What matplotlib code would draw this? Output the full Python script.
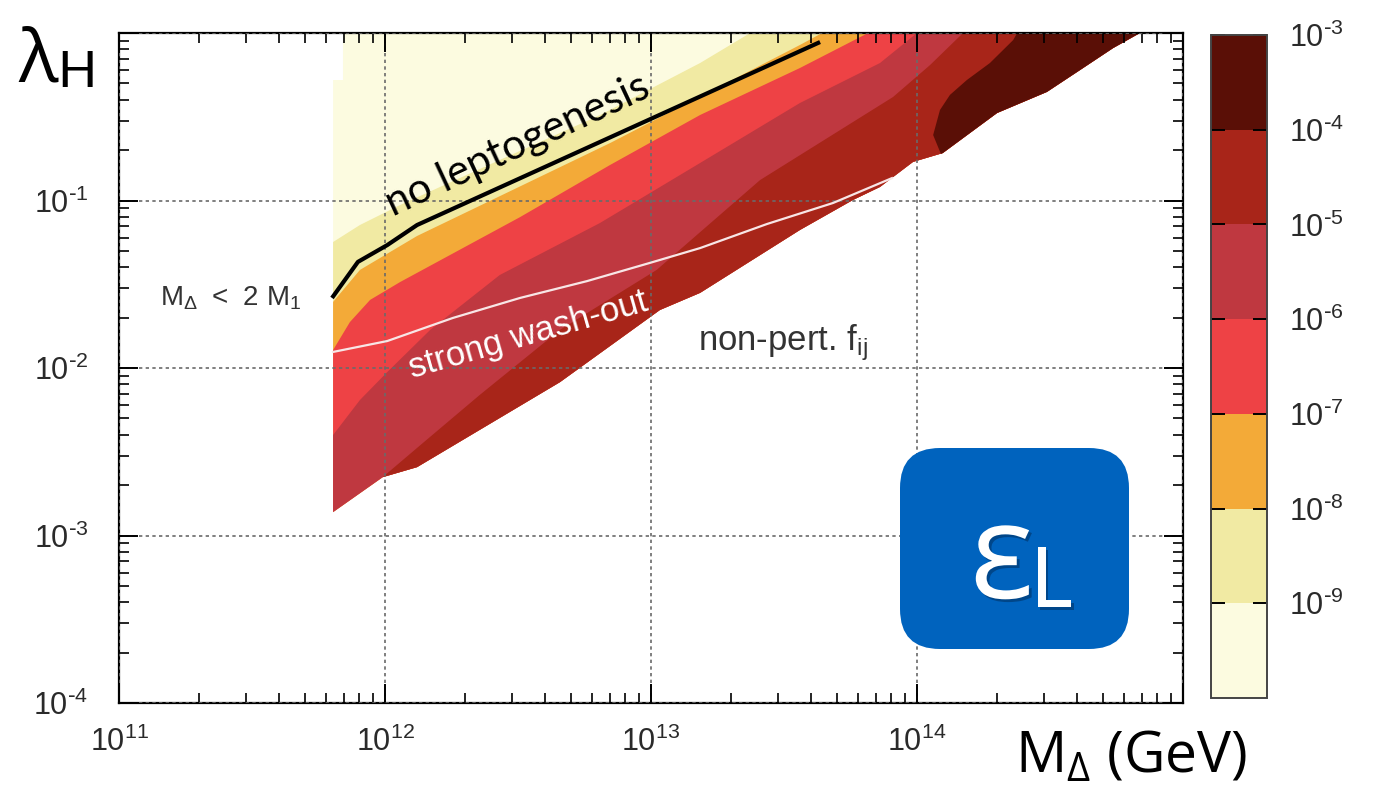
import numpy as np
import matplotlib
matplotlib.use("Agg")
import matplotlib.pyplot as plt
import matplotlib.ticker as mticker
import matplotlib.patheffects as pe
from matplotlib.colors import ListedColormap, BoundaryNorm
from matplotlib.cm import ScalarMappable
from matplotlib.patches import FancyBboxPatch

plt.rcParams["font.family"] = ["Liberation Sans", "DejaVu Sans"]
plt.rcParams["mathtext.default"] = "regular"

# eps_L contour levels and the colour of each band
levels = [1e-10, 1e-9, 1e-8, 1e-7, 1e-6, 1e-5, 1e-4, 1e-3]
band_colors = ["#FCFBE0", "#F1EAA3", "#F3AA38", "#EE4245",
               "#BF3840", "#A82519", "#5A0F06"]
cbar_ticks = [1e-9, 1e-8, 1e-7, 1e-6, 1e-5, 1e-4, 1e-3]

# allowed parameter region
left_M_low = 6.38e11          # M_Delta = 2 M_1 edge
left_M_high = 6.95e11
left_step_lam = 0.524
lower_M = [6.38e11, 9.8e11, 1.32e12, 4.55e12, 1.08e13, 1.53e13, 3.63e13, 5.74e13,
           7.26e13, 9.66e13, 1.25e14, 2.0e14, 3.08e14, 4.10e14, 5.46e14, 6.89e14]
lower_lam = [1.38e-3, 2.23e-3, 2.56e-3, 8.24e-3, 0.0222, 0.0281, 0.0667, 0.1007,
             0.1205, 0.170, 0.192, 0.333, 0.445, 0.601, 0.813, 1.0]

# contour lines eps_L = level (region below/right of each line has eps_L above the level)
c9_M = [6.38e11, 8.05e11, 1.14e12, 2.70e12, 6.43e12, 1.53e13, 2.36e13]
c9_lam = [0.0565, 0.0714, 0.094, 0.1745, 0.3236, 0.662, 1.0]
c8_M = [6.38e11, 8.05e11, 1.32e12, 7.02e12, 3.63e13, 4.40e13]
c8_lam = [0.0248, 0.0385, 0.0614, 0.2203, 0.848, 1.0]
c7_M = [6.38e11, 7.38e11, 8.79e11, 1.14e12, 3.22e12, 7.02e12, 1.53e13, 3.63e13, 6.55e13]
c7_lam = [0.0128, 0.0188, 0.0255, 0.0326, 0.0796, 0.163, 0.324, 0.618, 1.0]
c6_M = [6.38e11, 8.05e11, 1.02e12, 1.48e12, 2.70e12, 6.43e12, 1.53e13, 3.63e13, 7.26e13, 1.0e14]
c6_lam = [3.98e-3, 6.44e-3, 9.46e-3, 0.0169, 0.0359, 0.0734, 0.1675, 0.382, 0.662, 1.0]
c5_M = [9.8e11, 1.36e12, 2.27e12, 4.55e12, 1.05e13, 2.57e13, 8.13e13, 1.12e14, 1.49e14]
c5_lam = [2.23e-3, 3.47e-3, 6.90e-3, 0.0169, 0.0385, 0.1324, 0.415, 0.644, 1.0]
c4_M = [1.23e14, 1.15e14, 1.22e14, 1.33e14, 1.54e14, 1.88e14, 2.30e14, 2.38e14]
c4_lam = [0.1897, 0.246, 0.347, 0.427, 0.524, 0.662, 0.908, 1.0]

# "no leptogenesis" border and strong wash-out border
nolep_M = [6.32e11, 7.91e11, 1.02e12, 1.32e12, 4.32e13]
nolep_lam = [0.0262, 0.0430, 0.0542, 0.0714, 0.883]
wash_M = [6.38e11, 1.02e12, 1.80e12, 3.22e12, 5.74e12, 9.9e12, 1.53e13, 2.73e13, 4.83e13, 8.05e13]
wash_lam = [0.01247, 0.01449, 0.0199, 0.0262, 0.0330, 0.0424, 0.0520, 0.0724, 0.0966, 0.136]

W, H = 1379, 787
fig = plt.figure(figsize=(W / 100, H / 100), dpi=100)
ax = fig.add_axes([119 / W, 1 - 703 / H, (1183 - 119) / W, (703 - 33) / H])
ax.set_xscale("log")
ax.set_yscale("log")
ax.set_xlim(1e11, 1e15)
ax.set_ylim(1e-4, 1)


def region_above(cM, clam):
    """Polygon between a contour line, the top edge and the lower edge."""
    start = cM[0]
    xs = list(cM)
    ys = list(clam)
    for m, l in zip(lower_M[::-1], lower_lam[::-1]):
        if m > start:
            xs.append(m)
            ys.append(l)
    if start == left_M_low:
        xs.append(lower_M[0])
        ys.append(lower_lam[0])
    return xs, ys


# whole allowed region (lowest band)
dom_x = [left_M_high, left_M_high, left_M_low] + lower_M
dom_y = [1.0, left_step_lam, left_step_lam] + lower_lam
ax.fill(dom_x, dom_y, color=band_colors[0], lw=0, zorder=1)

contours = [(c9_M, c9_lam), (c8_M, c8_lam), (c7_M, c7_lam),
            (c6_M, c6_lam), (c5_M, c5_lam), (c4_M, c4_lam)]
for (cM, clam), col in zip(contours, band_colors[1:]):
    xs, ys = region_above(cM, clam)
    ax.fill(xs, ys, color=col, lw=0, zorder=1)

ax.plot(wash_M, wash_lam, color="#F8E6E6", lw=1.6, zorder=3)
ax.plot(nolep_M, nolep_lam, color="black", lw=3.0, zorder=3,
        solid_joinstyle="round", solid_capstyle="butt")

# axes styling
ax.set_axisbelow(False)
ax.grid(which="major", color="#6a6a6a", lw=1.2, ls=(0, (2.0, 2.0)))
for s in ax.spines.values():
    s.set_linewidth(1.6)
ax.xaxis.set_major_locator(mticker.LogLocator(base=10, numticks=20))
ax.yaxis.set_major_locator(mticker.LogLocator(base=10, numticks=20))
ax.xaxis.set_minor_locator(mticker.LogLocator(base=10, subs=np.arange(2, 10), numticks=50))
ax.yaxis.set_minor_locator(mticker.LogLocator(base=10, subs=np.arange(2, 10), numticks=50))
ax.xaxis.set_minor_formatter(mticker.NullFormatter())
ax.yaxis.set_minor_formatter(mticker.NullFormatter())


def power_label(e):
    if e < 0:
        return r"$10^{\text{-}%d}$" % (-e)
    return r"$10^{%d}$" % e


def fmt_x(v, _):
    e = int(round(np.log10(v)))
    return power_label(e) if e < 15 else ""


def fmt_y(v, _):
    e = int(round(np.log10(v)))
    return power_label(e) if e < 0 else ""


ax.xaxis.set_major_formatter(mticker.FuncFormatter(fmt_x))
ax.yaxis.set_major_formatter(mticker.FuncFormatter(fmt_y))
ax.tick_params(which="both", direction="in", top=True, right=True, colors="black",
               labelcolor="#2a2a2a", labelsize=22)
ax.tick_params(which="major", length=14, width=1.4)
ax.tick_params(which="minor", length=7, width=1.2)
ax.tick_params(axis="y", which="major", pad=22)
ax.tick_params(axis="x", which="major", pad=17)

# annotations
ax.text(3.16e12, 0.214, "no leptogenesis", rotation=25, rotation_mode="anchor",
        ha="center", va="center", fontsize=30, family=["Lato", "DejaVu Sans"],
        color="black", zorder=4)
ax.text(3.45e12, 0.0158, "strong wash-out", rotation=16, rotation_mode="anchor",
        ha="center", va="center", fontsize=25, color="white", zorder=4)
ax.text(1.43e11, 0.0262, r"$M_Δ\ <\ 2\ M_1$", ha="left", va="center",
        fontsize=20, color="#333333", zorder=4)
ax.text(1.50e13, 0.0128, r"non-pert. $f_{ij}$", ha="left", va="baseline",
        fontsize=25, color="#333333", zorder=4)

# colorbar
cax = fig.add_axes([1211 / W, 1 - 698 / H, 56 / W, (698 - 35) / H])
cmap = ListedColormap(band_colors)
norm = BoundaryNorm(levels, cmap.N)
cb = fig.colorbar(ScalarMappable(norm=norm, cmap=cmap), cax=cax, ticks=cbar_ticks)
cb.ax.yaxis.set_major_formatter(mticker.FuncFormatter(
    lambda v, _: power_label(int(round(np.log10(v))))))
cb.ax.minorticks_off()
cb.outline.set_edgecolor("#444444")
cb.outline.set_linewidth(1.4)
cb.ax.tick_params(direction="in", left=True, right=True, length=10, width=1.4,
                  colors="black", labelcolor="#2a2a2a", labelsize=22, pad=16)

# axis titles
fig.text(18 / W, 1 - 82 / H, "λ", fontsize=53, family=["Open Sans", "DejaVu Sans"],
         ha="left", va="baseline")
fig.text(57 / W, 1 - 87 / H, "H", fontsize=37, family=["Lato", "DejaVu Sans"],
         ha="left", va="baseline")
fig.text(1015 / W, 1 - 772 / H, r"M$_{Δ}$ (GeV)", fontsize=41,
         family=["Open Sans", "DejaVu Sans"], ha="left", va="baseline")

# eps_L badge
badge = FancyBboxPatch((9.00, (H - 649) / 100), 2.29, 2.01,
                       boxstyle="round,pad=0,rounding_size=0.40",
                       transform=fig.dpi_scale_trans, facecolor="#0063BE",
                       edgecolor="none", zorder=5)
fig.patches.append(badge)
shadow = [pe.withSimplePatchShadow(offset=(2, -2), shadow_rgbFace="#002a55", alpha=0.5)]
fig.text(970 / 100, (H - 598) / 100, "ε", transform=fig.dpi_scale_trans,
         fontsize=96, family=["Open Sans", "DejaVu Sans"], color="white",
         ha="left", va="baseline", zorder=6, path_effects=shadow)
fig.text(1030 / 100, (H - 607) / 100, "L", transform=fig.dpi_scale_trans,
         fontsize=60, family=["Lato", "DejaVu Sans"], color="white",
         ha="left", va="baseline", zorder=6, path_effects=shadow)

fig.savefig("out.png", dpi=100, facecolor="white")
